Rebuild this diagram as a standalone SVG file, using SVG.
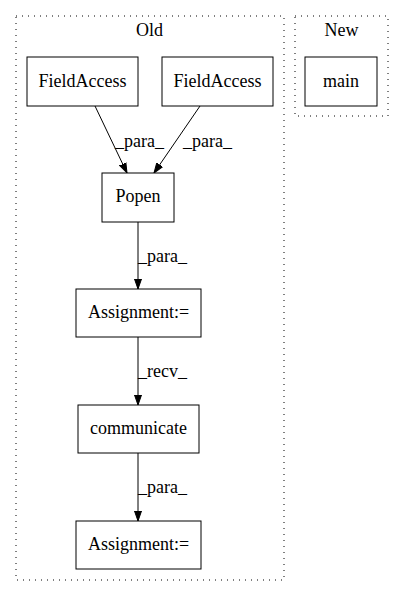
<svg xmlns="http://www.w3.org/2000/svg" width="404" height="596" viewBox="0 0 404 596">
<style>
.cl{fill:none;stroke:#000;stroke-width:1;stroke-dasharray:1,5}
.n rect{fill:#fff;stroke:#000;stroke-width:1}
text{font-family:"Liberation Serif","Times New Roman",serif;font-size:18px;fill:#000}
.c{text-anchor:middle}
.e path{fill:none;stroke:#000;stroke-width:1}
</style>
<defs>
<marker id="ah" viewBox="0 0 10 10" refX="10" refY="5" markerWidth="10" markerHeight="10" markerUnits="userSpaceOnUse" orient="auto">
<path d="M0,1.5 L10,5 L0,8.5 Z" fill="#000" stroke="#000"/>
</marker>
</defs>
<rect width="404" height="596" fill="#fff"/>
<g id="cluster_old">
<rect class="cl" x="16" y="16" width="268" height="564"/>
<text class="c" x="149.5" y="36">Old</text>
</g>
<g id="cluster_new">
<rect class="cl" x="295" y="16" width="93" height="100"/>
<text class="c" x="341.5" y="36">New</text>
</g>
<g id="connectors" class="e">
<path d="M95,106 L127,173" marker-end="url(#ah)"/>
<path d="M200,106 L154,173" marker-end="url(#ah)"/>
<path d="M138,222 L138,289" marker-end="url(#ah)"/>
<path d="M138,337 L138,405" marker-end="url(#ah)"/>
<path d="M138,453 L138,521" marker-end="url(#ah)"/>
<text x="115" y="147">_para_</text>
<text x="183" y="147">_para_</text>
<text x="138" y="262">_para_</text>
<text x="138" y="377">_recv_</text>
<text x="138" y="493">_para_</text>
</g>
<g id="fa1" class="n"><rect x="27" y="57" width="111" height="49"/><text class="c" x="82.5" y="87">FieldAccess</text></g>
<g id="fa2" class="n"><rect x="162" y="57" width="111" height="49"/><text class="c" x="217.5" y="87">FieldAccess</text></g>
<g id="main" class="n"><rect x="305" y="57" width="72" height="49"/><text class="c" x="341" y="87">main</text></g>
<g id="popen" class="n"><rect x="102" y="173" width="72" height="49"/><text class="c" x="138" y="202">Popen</text></g>
<g id="assign1" class="n"><rect x="76" y="289" width="125" height="48"/><text class="c" x="138.5" y="318">Assignment:=</text></g>
<g id="communicate" class="n"><rect x="78" y="405" width="121" height="48"/><text class="c" x="138.5" y="434">communicate</text></g>
<g id="assign2" class="n"><rect x="76" y="521" width="125" height="48"/><text class="c" x="138.5" y="550">Assignment:=</text></g>
</svg>
